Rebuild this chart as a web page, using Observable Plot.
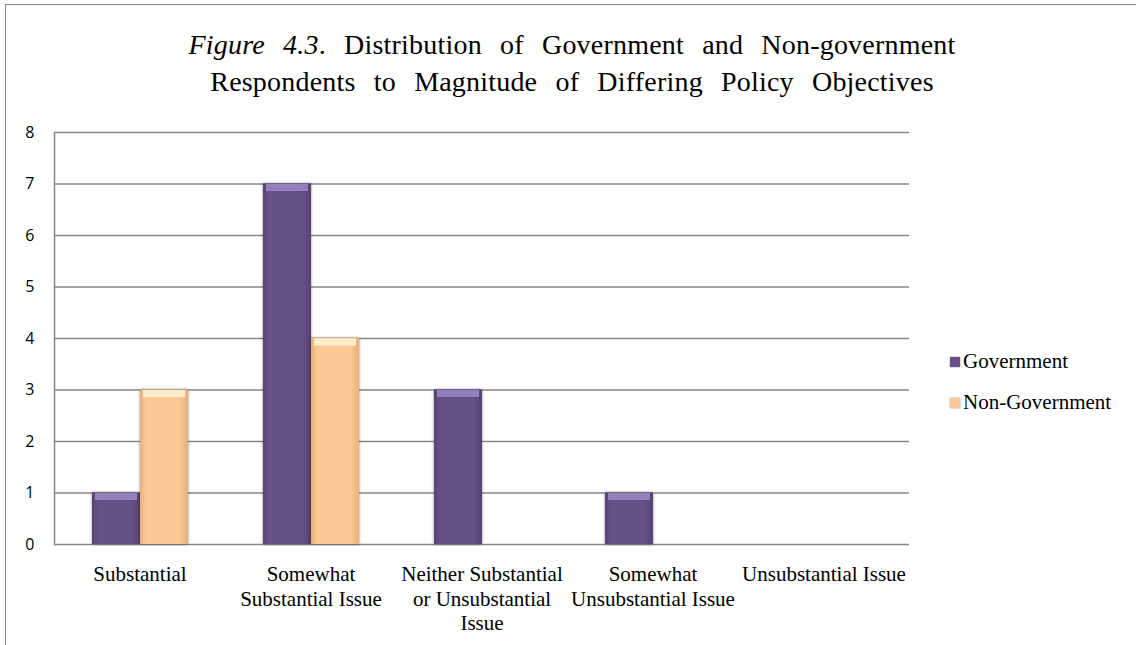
<!DOCTYPE html>
<html>
<head>
<meta charset="utf-8">
<script src="https://cdn.jsdelivr.net/npm/d3@7"></script>
<script src="https://cdn.jsdelivr.net/npm/@observablehq/plot@0.6"></script>
<style>
  body { margin: 0; background: #fff; }
  #wrap { position: relative; width: 1136px; height: 645px; overflow: hidden; background: #fff; }
  #frame { position: absolute; left: 5px; top: 4px; width: 1140px; height: 650px;
           border-top: 1.5px solid #878787; border-left: 1.5px solid #878787; pointer-events: none; }
  #title { position: absolute; left: 0; top: 26px; width: 1144px; text-align: center;
           font-family: "Liberation Serif", serif; font-size: 28px; line-height: 37px; color: #000;
           word-spacing: 11px; letter-spacing: 0.2px; }
  #plot { position: absolute; left: 0; top: 0; }
  #legend { position: absolute; left: 950px; top: 341px; font-family: "Liberation Serif", serif;
            font-size: 21px; color: #000; }
  #legend .item { display: flex; align-items: center; height: 41px; }
  #legend .sw { width: 10px; height: 10px; margin-right: 3px; box-shadow: 0 0 1.5px rgba(0,0,0,0.5); }
  g[aria-label="bar"] { filter: drop-shadow(0 0 1.5px rgba(0,0,0,0.45)); }
</style>
</head>
<body>
<div id="wrap">
  <div id="plot"></div>
  <div id="title"><i>Figure 4.3</i>. Distribution of Government and Non-government<br>Respondents to Magnitude of Differing Policy Objectives</div>
  <div id="legend"></div>
  <div id="frame"></div>
</div>
<script>
const categories = [
  "Substantial",
  "Somewhat Substantial Issue",
  "Neither Substantial or Unsubstantial Issue",
  "Somewhat Unsubstantial Issue",
  "Unsubstantial Issue"
];
const categoryLabels = [
  "Substantial",
  "Somewhat\nSubstantial Issue",
  "Neither Substantial\nor Unsubstantial\nIssue",
  "Somewhat\nUnsubstantial Issue",
  "Unsubstantial Issue"
];
const seriesNames = ["Government", "Non-Government"];
const government = [1, 7, 3, 1, 0];
const nonGovernment = [3, 4, 0, 0, 0];
const yTicks = [0, 1, 2, 3, 4, 5, 6, 7, 8];
const seriesColors = ["#674F88", "#FCC893"];

const rows = categories.flatMap((c, i) => [
  {category: c, series: seriesNames[0], value: government[i]},
  {category: c, series: seriesNames[1], value: nonGovernment[i]}
]).filter(d => d.value > 0);

// one grid line per tick in every category panel
const gridRows = categories.flatMap(c => yTicks.map(t => ({category: c, tick: t})));

const labelOf = new Map(categories.map((c, i) => [c, categoryLabels[i]]));

const chart = Plot.plot({
  width: 1136,
  height: 645,
  marginTop: 132,
  marginBottom: 101,
  marginLeft: 53,
  marginRight: 227,
  style: {fontFamily: "Liberation Serif", background: "transparent", color: "#000"},
  fx: {domain: categories, padding: 0, axis: null},
  x: {domain: seriesNames, paddingInner: 0, paddingOuter: 0.75, axis: null},
  y: {domain: [0, 8], axis: null},
  marks: [
    Plot.ruleY(gridRows, {fx: "category", y: "tick", stroke: "#878787", strokeWidth: 1.5, strokeOpacity: 1}),
    Plot.frame({anchor: "left", facetAnchor: "left", stroke: "#878787", strokeWidth: 1.5, strokeOpacity: 1}),
    Plot.axisY(yTicks, {anchor: "left", facetAnchor: "left", label: null, tickSize: 0, tickPadding: 20, fontFamily: "Open Sans", fontSize: 16, tickFormat: d => String(d)}),
    Plot.axisFx({anchor: "bottom", tickSize: 0, tickPadding: 19, fontSize: 21, lineHeight: 1.17, tickFormat: d => labelOf.get(d), label: null}),
    Plot.barY(rows, {fx: "category", x: "series", y: "value", filter: d => d.series === seriesNames[0], fill: "url(#gradGov)"}),
    Plot.barY(rows, {fx: "category", x: "series", y: "value", filter: d => d.series === seriesNames[1], fill: "url(#gradNon)"}),
    Plot.tickY(rows, {fx: "category", x: "series", y: "value", filter: d => d.series === seriesNames[0], stroke: "#9580BD", strokeWidth: 7, dy: 3.5, insetLeft: 3, insetRight: 3, strokeOpacity: 1}),
    Plot.tickY(rows, {fx: "category", x: "series", y: "value", filter: d => d.series === seriesNames[1], stroke: "#FFEDCB", strokeWidth: 7, dy: 3.5, insetLeft: 3, insetRight: 3, strokeOpacity: 1})
  ]
});

const defs = d3.select(chart).insert("defs", ":first-child");
function grad(id, edge, main) {
  const g = defs.append("linearGradient").attr("id", id).attr("x1", 0).attr("x2", 1).attr("y1", 0).attr("y2", 0);
  g.append("stop").attr("offset", 0).attr("stop-color", edge);
  g.append("stop").attr("offset", 0.12).attr("stop-color", main);
  g.append("stop").attr("offset", 0.82).attr("stop-color", main);
  g.append("stop").attr("offset", 1).attr("stop-color", edge);
}
grad("gradGov", "#56436F", seriesColors[0]);
grad("gradNon", "#E7AF7A", seriesColors[1]);

document.getElementById("plot").appendChild(chart);

const legend = d3.select("#legend");
seriesNames.forEach((s, i) => {
  const item = legend.append("div").attr("class", "item");
  item.append("div").attr("class", "sw").style("background", seriesColors[i]);
  item.append("span").text(s);
});
</script>
</body>
</html>
